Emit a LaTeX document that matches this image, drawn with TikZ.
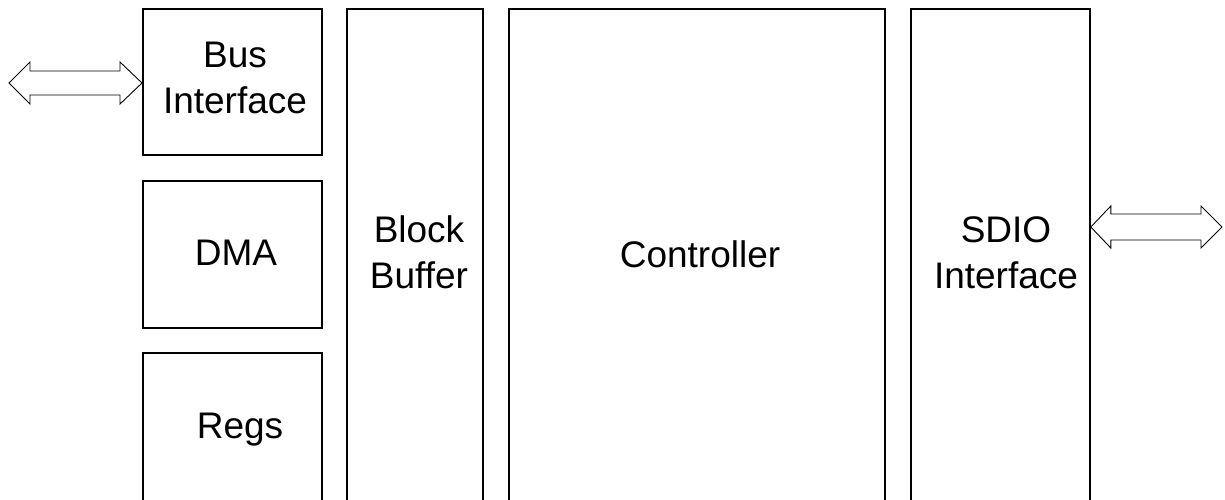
\documentclass[tikz,border=0pt]{standalone}
\usepackage{fontspec}
\setmainfont[Ligatures=CommonOff]{Liberation Sans}
\usetikzlibrary{calc}
\begin{document}
\begin{tikzpicture}[x=1pt,y=-1pt,
  box/.style={draw=black,line width=1.8pt,inner sep=0pt,anchor=north west},
  lbl/.style={font=\fontsize{37}{46}\selectfont,align=center,inner sep=0pt,anchor=base},
  arr/.style={draw=black,line width=0.9pt,fill=white,line join=miter}]
\useasboundingbox (0,0) rectangle (1225,499);
\begin{scope}
\clip (0,0) rectangle (1225,499);
\node[box,minimum width=179pt,minimum height=146pt] (bus) at (142,8) {};
\node[box,minimum width=179pt,minimum height=147pt] (dma) at (142,180) {};
\node[box,minimum width=179pt,minimum height=148pt] (regs) at (142,352) {};
\node[box,minimum width=136pt,minimum height=492pt] (buf) at (346,8) {};
\node[box,minimum width=376pt,minimum height=492pt] (ctrl) at (508,8) {};
\node[box,minimum width=179pt,minimum height=492pt] (sdio) at (910,8) {};
\end{scope}
\node[lbl] (tbus) at (235,113) {Bus\\Interface};
\node[lbl] (tdma) at (236,265) {DMA};
\node[lbl] (tregs) at (240,438) {Regs};
\node[lbl] (tbuf) at (419,288) {Block\\Buffer};
\node[lbl] (tctrl) at (700,267) {Controller};
\node[lbl] (tsdio) at (1006,288) {SDIO\\Interface};
% left double arrow
\coordinate (la) at (9,83);
\coordinate (lb) at ($(bus.north west)+(0,75)$);
\draw[arr] (la) -- ++(21,-21) -- ++(0,9) -- ($(lb)+(-22,-12)$) -- ++(0,-9) -- (lb)
  -- ++(-22,21) -- ++(0,-9) -- ($(la)+(21,12)$) -- ++(0,9) -- cycle;
% right double arrow
\coordinate (ra) at ($(sdio.north east)+(0,219)$);
\coordinate (rb) at (1222,227);
\draw[arr] (ra) -- ++(20,-21) -- ++(0,8) -- ($(rb)+(-21,-13)$) -- ++(0,-8) -- (rb)
  -- ++(-21,21) -- ++(0,-8) -- ($(ra)+(20,13)$) -- ++(0,8) -- cycle;
\end{tikzpicture}
\end{document}
